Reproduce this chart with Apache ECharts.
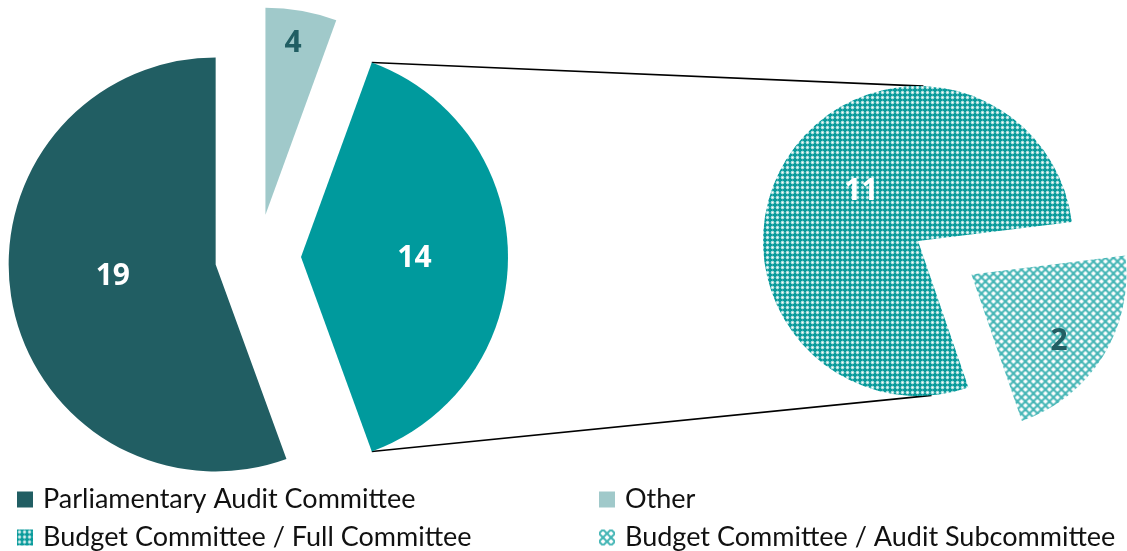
<!DOCTYPE html>
<html>
<head>
<meta charset="utf-8">
<script src="https://cdn.jsdelivr.net/npm/echarts@6/dist/echarts.min.js"></script>
<style>
  html, body { margin: 0; padding: 0; background: #fff; }
  #chart { width: 1127px; height: 551px; }
</style>
</head>
<body>
<div id="chart"></div>
<script>
// left pie, clockwise from 12 o'clock
const leftNames = ["Other", "Budget Committee", "Parliamentary Audit Committee"];
const leftLabels = ["4", "14", "19"];
// slice sizes in degrees as drawn in the picture (labels do not add up to the drawn angles)
const leftShares = [20, 140, 200];

// right pie, clockwise from the upper cut edge
const rightNames = ["Budget Committee / Audit Subcommittee", "Budget Committee / Full Committee"];
const rightLabels = ["2", "11"];
const rightShares = [78, 282];

// legend entries, read row by row
const legendItems = [
  "Parliamentary Audit Committee", "Other",
  "Budget Committee / Full Committee", "Budget Committee / Audit Subcommittee"
];

// --- patterns ---
function dotPattern() {
  const c = document.createElement("canvas");
  c.width = 5; c.height = 5;
  const g = c.getContext("2d");
  g.fillStyle = "#0a9b9c";
  g.fillRect(0, 0, 5, 5);
  g.fillStyle = "rgba(255,255,255,0.22)";
  g.fillRect(0, 2, 5, 1);
  g.fillRect(2, 0, 1, 5);
  g.fillStyle = "rgba(255,255,255,0.6)";
  g.fillRect(1, 1, 3, 3);
  g.fillStyle = "#ffffff";
  g.fillRect(2, 2, 1, 1);
  return c;
}
function latticePattern() {
  const c = document.createElement("canvas");
  c.width = 8; c.height = 8;
  const g = c.getContext("2d");
  g.fillStyle = "#ffffff";
  g.fillRect(0, 0, 8, 8);
  g.strokeStyle = "#45b6b6";
  g.lineWidth = 2;
  g.beginPath();
  g.moveTo(-1, 5); g.lineTo(5, -1);
  g.moveTo(3, 9); g.lineTo(9, 3);
  g.moveTo(-1, 3); g.lineTo(5, 9);
  g.moveTo(3, -1); g.lineTo(9, 5);
  g.stroke();
  return c;
}

const leftColors = ["#a0c9ca", "#009a9d", "#215e63"];
const leftLabelColors = ["#215e63", "#ffffff", "#ffffff"];
const rightColors = [
  { image: latticePattern(), repeat: "repeat" },
  { image: dotPattern(), repeat: "repeat" }
];
const rightLabelColors = ["#215e63", "#ffffff"];

const L = { cx: 258, cy: 257, r: 207, off: 43, start: 90 };
const R = { cx: 918, cy: 241, r: 155, off: 63, start: 7 };
const leftPush = [70, 10, 2];
const rightPush = [31, 4];
const leftNudge = [[-3, 3], [-3, 1], [4, -7]];
const rightNudge = [[-7, 8], [15, -5]];

function midAngles(vals, start) {
  const total = vals.reduce((a, b) => a + b, 0);
  let a = start;
  return vals.map(v => {
    const span = v / total * 360;
    const m = a - span / 2;
    a -= span;
    return m;
  });
}
const leftMid = midAngles(leftShares, L.start);
const rightMid = midAngles(rightShares, R.start);
const rad = Math.PI / 180;

function pushLayout(mids, push, nudge) {
  return function (params) {
    const i = params.dataIndex;
    const m = mids[i] * rad;
    return {
      dx: push[i] * Math.cos(m) + nudge[i][0],
      dy: -push[i] * Math.sin(m) + nudge[i][1]
    };
  };
}

// connector lines: corners of the exploded left slice to the rim of the right pie
const totalL = leftShares.reduce((a, b) => a + b, 0);
const tealStart = L.start - leftShares[0] / totalL * 360;
const tealEnd = tealStart - leftShares[1] / totalL * 360;
const tealMid = leftMid[1] * rad;
const apex = [L.cx + L.off * Math.cos(tealMid), L.cy - L.off * Math.sin(tealMid)];
const cTop = [apex[0] + L.r * Math.cos(tealStart * rad), apex[1] - L.r * Math.sin(tealStart * rad)];
const cBot = [apex[0] + L.r * Math.cos(tealEnd * rad), apex[1] - L.r * Math.sin(tealEnd * rad)];
const rTop = [R.cx + R.r * Math.cos(88 * rad), R.cy - R.r * Math.sin(88 * rad)];
const rBot = [R.cx + R.r * Math.cos(-85 * rad), R.cy - R.r * Math.sin(-85 * rad)];

const labelFont = { fontSize: 30, fontWeight: "bold", fontFamily: "Open Sans" };

// 2x2 legend grid
const legendPos = [[17, 486], [599, 486], [17, 524], [599, 524]];
const legends = legendItems.map((name, i) => ({
  left: legendPos[i][0], top: legendPos[i][1], padding: 0,
  itemWidth: 16, itemHeight: 16, icon: "rect", selectedMode: false,
  data: [name],
  textStyle: { fontSize: 27, fontFamily: "Lato", color: "#111", padding: [0, 0, 0, 5] }
}));

const chart = echarts.init(document.getElementById("chart"));
chart.setOption({
  animation: false,
  legend: legends,
  graphic: [
    { type: "line", z: 1, shape: { x1: cTop[0], y1: cTop[1], x2: rTop[0], y2: rTop[1] }, style: { stroke: "#000", lineWidth: 1.6 } },
    { type: "line", z: 1, shape: { x1: cBot[0], y1: cBot[1], x2: rBot[0], y2: rBot[1] }, style: { stroke: "#000", lineWidth: 1.6 } }
  ],
  series: [
    {
      type: "pie",
      center: [L.cx, L.cy],
      radius: L.r,
      startAngle: L.start,
      clockwise: true,
      selectedMode: "multiple",
      selectedOffset: L.off,
      avoidLabelOverlap: false,
      emphasis: { disabled: true },
      label: Object.assign({ show: true, position: "inside", formatter: p => leftLabels[p.dataIndex] }, labelFont),
      labelLine: { show: false },
      labelLayout: pushLayout(leftMid, leftPush, leftNudge),
      data: leftNames.map((n, i) => ({
        name: n, value: leftShares[i], selected: true,
        itemStyle: { color: leftColors[i] },
        label: { color: leftLabelColors[i] }
      }))
    },
    {
      type: "pie",
      center: [R.cx, R.cy],
      radius: R.r,
      startAngle: R.start,
      clockwise: true,
      selectedMode: "multiple",
      selectedOffset: R.off,
      avoidLabelOverlap: false,
      emphasis: { disabled: true },
      label: Object.assign({ show: true, position: "inside", formatter: p => rightLabels[p.dataIndex] }, labelFont),
      labelLine: { show: false },
      labelLayout: pushLayout(rightMid, rightPush, rightNudge),
      data: rightNames.map((n, i) => ({
        name: n, value: rightShares[i], selected: i === 0,
        itemStyle: { color: rightColors[i] },
        label: { color: rightLabelColors[i] }
      }))
    }
  ]
});
</script>
</body>
</html>
